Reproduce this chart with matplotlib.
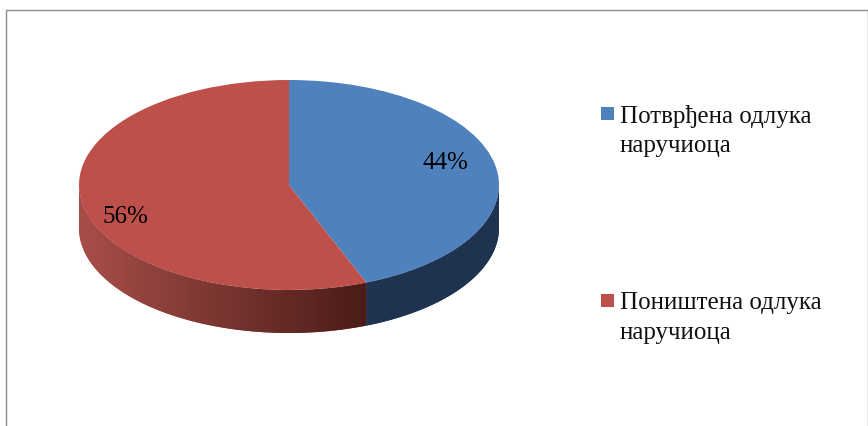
import numpy as np
import matplotlib
matplotlib.use("Agg")
import matplotlib.pyplot as plt
from matplotlib.colors import to_rgb
from matplotlib.patches import Polygon, Rectangle

labels = ["Потврђена одлука\nнаручиоца", "Поништена одлука\nнаручиоца"]
values = [44, 56]
pct_labels = ["44%", "56%"]
colors = ["#4F81BD", "#BE504C"]
side_right = ["#1F3350", "#4A1C18"]
side_left = ["#1F3350", "#A84E49"]

W, H = 868, 426
fig = plt.figure(figsize=(W / 100, H / 100), dpi=100, facecolor="white")
ax = fig.add_axes([0, 0, 1, 1])
plt.rcParams["font.family"] = ["Liberation Serif", "DejaVu Serif"]

cx, cy, rx, ry, depth = 289, 185, 210, 105, 43
xlim = (-cx / rx, (W - cx) / rx)
ylim = (-(H - cy) / ry, cy / ry)
ax.pie(values, colors=colors, startangle=90, counterclock=False, radius=1,
       center=(0, 0), wedgeprops=dict(linewidth=0), frame=False)

# Side wall: gradient images clipped to each slice's lower rim
d = depth / ry
fractions = np.cumsum([0] + values) / sum(values)
edges = np.pi / 2 - 2 * np.pi * fractions
for i in range(len(values)):
    th = np.linspace(edges[i], edges[i + 1], 721)
    th = th[np.sin(th) <= 0]
    x, y = np.cos(th), np.sin(th)
    verts = np.column_stack([np.r_[x, x[::-1]], np.r_[y, y[::-1] - d]])
    poly = Polygon(verts, closed=True, facecolor=side_left[i], edgecolor="none", zorder=0)
    ax.add_patch(poly)
    t = np.linspace(0, 1, 256)[:, None]
    grad = (np.array(to_rgb(side_left[i])) * (1 - t) + np.array(to_rgb(side_right[i])) * t)[None, :, :]
    im = ax.imshow(grad, extent=(x.min(), x.max(), (y - d).min(), y.max()),
                   aspect="auto", zorder=0.5, interpolation="bilinear")
    im.set_clip_path(poly)

ax.set_aspect("auto")
ax.set_xlim(*xlim)
ax.set_ylim(*ylim)
ax.axis("off")

# Percentage labels
ax.text((445 - cx) / rx, (cy - 163) / ry, pct_labels[0], fontsize=18,
        ha="center", va="center", color="black")
ax.text((125 - cx) / rx, (cy - 217) / ry, pct_labels[1], fontsize=18,
        ha="center", va="center", color="black")

# Legend
for lab, col, ky, ty in zip(labels, colors, (114, 301), (131, 318)):
    ax.add_patch(Rectangle(((601 - cx) / rx, (cy - ky - 6) / ry), 13 / rx, 13 / ry,
                           facecolor=col, edgecolor="none"))
    ax.text((620 - cx) / rx, (cy - ty) / ry, lab, fontsize=18, ha="left", va="center",
            color="#111111", linespacing=1.42)

# Outer frame
fig.add_artist(Rectangle((6 / W, -1 / H), (W - 6) / W, (H - 10 + 1) / H, transform=fig.transFigure,
                         fill=False, edgecolor="#8C8C8C", linewidth=1))
fig.savefig("out.png", dpi=100)
